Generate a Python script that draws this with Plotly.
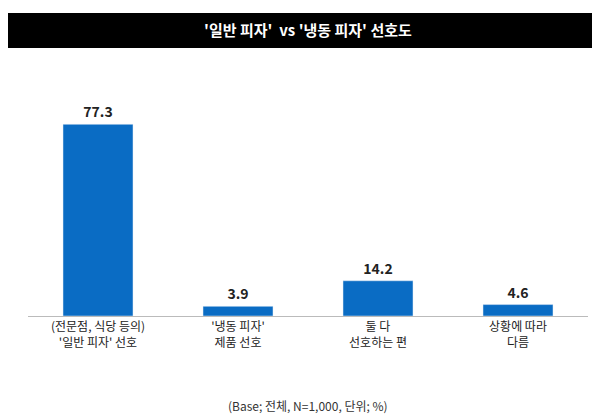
import plotly.graph_objects as go

categories = ["(전문점, 식당 등의)<br>'일반 피자' 선호", "'냉동 피자'<br>제품 선호", "둘 다<br>선호하는 편", "상황에 따라<br>다름"]
values = [77.3, 3.9, 14.2, 4.6]
labels = ["77.3", "3.9", "14.2", "4.6"]

font = "Noto Sans CJK KR"
H = 248.0
fig = go.Figure(go.Bar(
    x=categories, y=values, marker_color="#0A6CC4", width=0.5,
    text=labels, textposition="outside", cliponaxis=False,
    textfont=dict(family=font, size=14, color="#222", weight="bold"),
))
fig.update_layout(
    width=600, height=419, margin=dict(l=20, r=20, t=60, b=111, autoexpand=False),
    paper_bgcolor="white", plot_bgcolor="white", showlegend=False,
    font=dict(family=font, color="#222"),
    xaxis=dict(showline=True, linecolor="#BBBBBB", linewidth=1, ticks="", automargin=False,
               tickfont=dict(size=12, color="#222")),
    yaxis=dict(range=[0, 100], visible=False, automargin=False),
    shapes=[dict(type="rect", xref="paper", yref="paper", x0=-20/560, x1=580/560,
                 y0=(308-40)/H, y1=(308-5)/H, fillcolor="black", line_width=0, layer="below")],
    annotations=[
        dict(text="<b>'일반 피자'  vs '냉동 피자' 선호도</b>", xref="paper", yref="paper",
             x=0.5, y=(308-22)/H, yanchor="middle", showarrow=False, font=dict(size=15, color="white")),
        dict(text="(Base; 전체, N=1,000, 단위; %)", xref="paper", yref="paper",
             x=0.5, y=-(397-308)/H, yanchor="middle", showarrow=False, font=dict(size=12, color="#333")),
    ],
)
fig.write_html("out.html")
